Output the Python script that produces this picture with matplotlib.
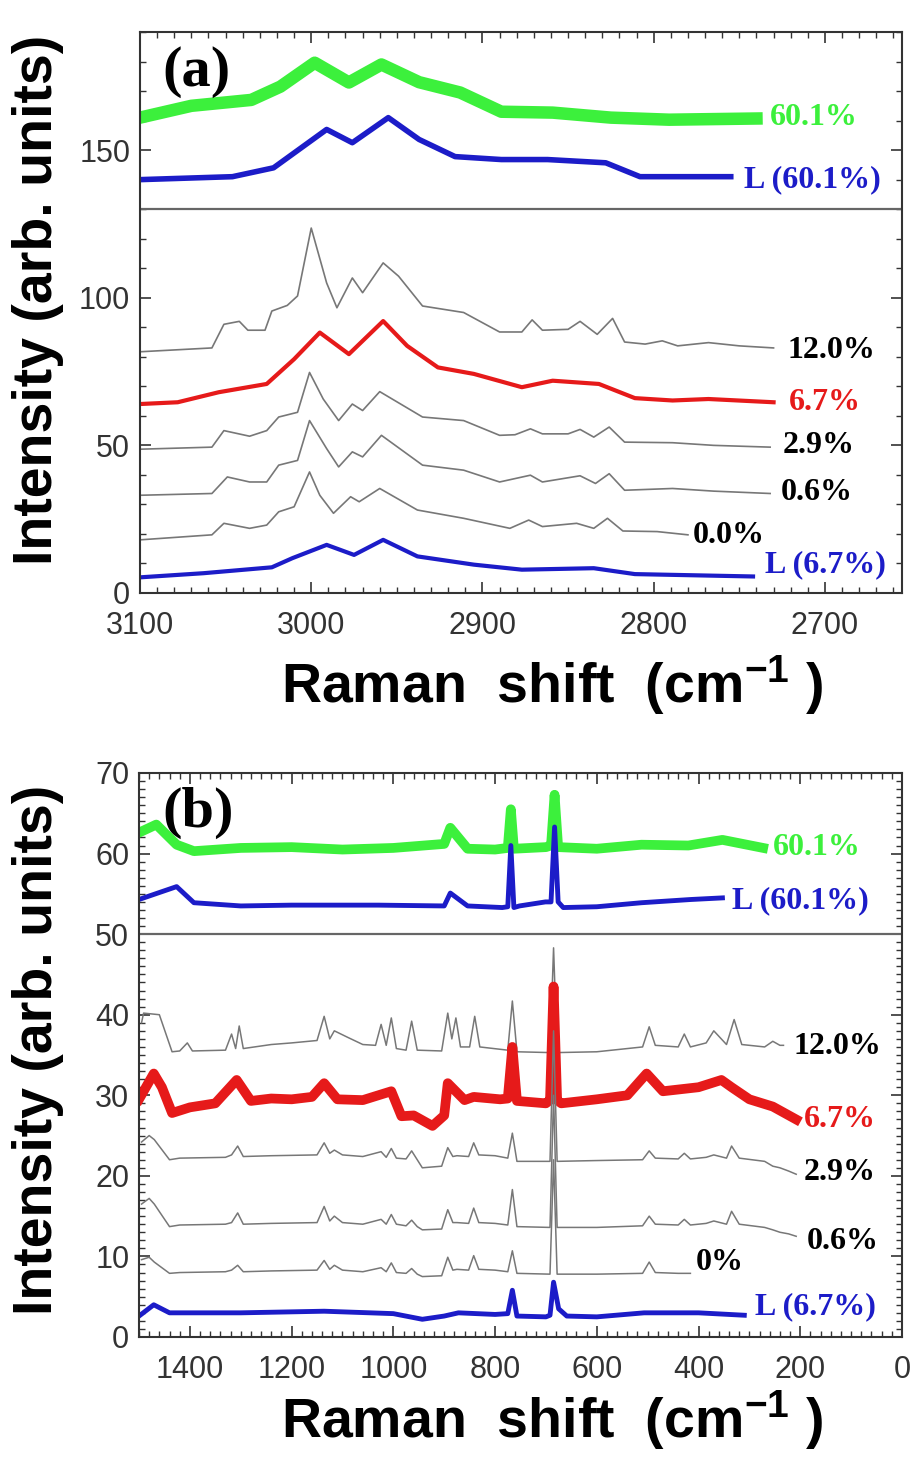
import matplotlib
matplotlib.use("Agg")
import matplotlib.pyplot as plt
from matplotlib import font_manager
from matplotlib.ticker import MultipleLocator

names = {f.name for f in font_manager.fontManager.ttflist}
SANS = 'Liberation Sans Narrow' if 'Liberation Sans Narrow' in names else 'Liberation Sans'
SERIF = 'Liberation Serif'
plt.rcParams['mathtext.default'] = 'regular'

# ---------------- panel (a) : 3100-2650 cm-1 ----------------
a_x_green = [3100, 3070, 3035, 3018, 2998, 2978, 2959, 2937, 2913, 2889, 2859, 2825, 2791, 2740]
a_y_green = [161, 165, 167, 171.5, 179.6, 172.9, 179, 173, 169.5, 163, 162.7, 161, 160.3, 160.7]

a_x_L601 = [3100, 3046, 3022, 2991, 2976, 2955, 2937, 2916, 2889, 2862, 2828, 2808, 2755]
a_y_L601 = [140, 141, 144, 157, 152.5, 161, 153.6, 147.8, 146.8, 146.8, 145.7, 141, 141]

a_x_120 = [3100, 3058, 3051, 3042, 3037, 3027, 3023, 3014, 3008, 3000, 2991, 2985, 2976, 2970,
           2958, 2949, 2935, 2911, 2890, 2877, 2871, 2865, 2850, 2843, 2833, 2824, 2817, 2805,
           2795, 2786, 2768, 2750, 2730]
a_y_120 = [81.7, 83, 91, 92, 89, 89, 95.5, 97.4, 100.6, 123.6, 105, 96.6, 106.7, 101.7,
           111.8, 107.3, 97.2, 95, 88.4, 88.4, 92.5, 89, 89.3, 92, 87.6, 93, 85, 84.3,
           85.4, 83.7, 84.8, 83.7, 83]

a_x_67 = [3100, 3078, 3054, 3026, 3010, 2995, 2978, 2958, 2944, 2926, 2905, 2877, 2859, 2832,
          2811, 2789, 2768, 2730]
a_y_67 = [64, 64.6, 68, 70.8, 79.2, 88.2, 80.9, 92.1, 83.7, 76.4, 74.2, 69.7, 71.9, 70.8,
          66, 65.2, 65.7, 64.6]

a_x_29 = [3100, 3058, 3051, 3036, 3026, 3019, 3008, 3001, 2993, 2984, 2976, 2970, 2960, 2935,
          2911, 2890, 2881, 2872, 2865, 2850, 2843, 2835, 2826, 2817, 2789, 2765, 2732]
a_y_29 = [48.7, 49.4, 55, 53.1, 55, 59.6, 61.2, 74.7, 65.7, 58.4, 64, 61.8, 68.2, 59.6,
          58.4, 53.4, 53.6, 55.6, 53.9, 53.9, 55.4, 52.8, 56.2, 51.1, 50.9, 50, 49.4]

a_x_06 = [3100, 3058, 3049, 3036, 3026, 3019, 3008, 3001, 2991, 2984, 2976, 2970, 2959, 2935,
          2911, 2890, 2872, 2865, 2843, 2834, 2826, 2817, 2789, 2765, 2732]
a_y_06 = [33.1, 33.7, 39.3, 37.6, 37.6, 43.3, 44.9, 58.4, 48.9, 42.7, 47.8, 46.1, 53.4, 43.3,
          41.6, 37.6, 39.9, 37.6, 39.7, 37.1, 40.4, 34.8, 35.4, 34.5, 33.7]

a_x_00 = [3100, 3058, 3051, 3036, 3026, 3019, 3010, 3001, 2995, 2987, 2977, 2972, 2960, 2938,
          2911, 2884, 2873, 2865, 2845, 2835, 2827, 2818, 2798, 2780]
a_y_00 = [18, 19.7, 23.6, 21.9, 23, 27.5, 29.2, 41, 33.1, 27, 32.6, 30.9, 35.4, 28.1,
          25.3, 21.9, 24.7, 22.5, 23.6, 21.9, 25.3, 21, 20.8, 19.7]

a_x_L67 = [3100, 3063, 3023, 3011, 2991, 2975, 2958, 2938, 2905, 2877, 2835, 2811, 2742]
a_y_L67 = [5.3, 6.7, 8.7, 11.8, 16.3, 12.9, 18, 12.4, 9.6, 7.9, 8.4, 6.4, 5.6]

a_labels = ['60.1%', 'L (60.1%)', '12.0%', '6.7%', '2.9%', '0.6%', '0.0%', 'L (6.7%)']
a_lab_x = [2732, 2747, 2722, 2721, 2725, 2726, 2777, 2735]
a_lab_y = [161, 140, 82, 64.4, 49.8, 34, 19.5, 9.6]

# ---------------- panel (b) : 1500-0 cm-1 ----------------
b_x_green = [1500, 1466, 1426, 1392, 1300, 1200, 1100, 1000, 900, 888, 854, 800, 775, 769,
             763, 700, 690, 683, 676, 600, 512, 420, 353, 273]
b_y_green = [62.6, 63.6, 61.1, 60.3, 60.7, 60.8, 60.5, 60.7, 61.2, 63.2, 60.6, 60.5, 60.7, 65.5,
             60.6, 60.8, 61.0, 67.3, 60.8, 60.6, 61.1, 61.0, 61.7, 60.7]

b_x_L601 = [1500, 1426, 1392, 1300, 1200, 1030, 900, 888, 854, 786, 775, 769, 763, 752,
            701, 690, 683, 676, 666, 600, 512, 415, 353]
b_y_L601 = [54.3, 55.9, 53.9, 53.5, 53.6, 53.6, 53.5, 55.1, 53.5, 53.3, 53.4, 61.0, 53.3, 53.5,
            54.0, 54.0, 63.3, 54.0, 53.3, 53.4, 53.9, 54.3, 54.5]

b_x_120 = [1495, 1491, 1460, 1435, 1420, 1405, 1395, 1330, 1318, 1310, 1303, 1295, 1240, 1200,
           1150, 1136, 1125, 1116, 1090, 1060, 1035, 1024, 1014, 1004, 994, 975, 964, 953,
           905, 893, 885, 877, 868, 850, 840, 830, 775, 766, 757, 692, 685, 678, 600, 510,
           497, 485, 440, 428, 416, 385, 370, 345, 330, 315, 270, 254, 240, 233]
b_y_120 = [39, 40.2, 40, 35.4, 35.5, 36.5, 35.5, 35.6, 37.6, 35.8, 38.6, 35.8, 36.3, 36.5,
           36.8, 39.8, 37, 38, 37.2, 36.3, 36.2, 38.8, 36.2, 39.6, 35.8, 35.6, 39.2, 35.6,
           35.5, 40.2, 37, 39.6, 36, 36, 39.8, 36, 35.6, 41.7, 35.4, 35.3, 48.3, 35.3, 35.4, 36,
           38.5, 36.2, 36, 37.6, 36, 36.5, 38, 36.3, 39.4, 36.3, 36, 36.7, 36.2, 36.2]

b_x_67 = [1500, 1471, 1455, 1435, 1400, 1350, 1308, 1280, 1240, 1200, 1160, 1136, 1110, 1060,
          1004, 984, 960, 923, 900, 893, 860, 842, 790, 775, 766, 757, 700, 692, 685, 678,
          670, 600, 540, 502, 470, 400, 355, 335, 300, 254, 208]
b_y_67 = [29.5, 32.7, 31.0, 27.8, 28.5, 29.0, 31.9, 29.3, 29.6, 29.5, 29.8, 31.5, 29.5, 29.4,
          30.5, 27.4, 27.5, 26.2, 27.5, 31.5, 29.4, 29.8, 29.5, 29.6, 36.0, 29.3, 29.0, 29.4, 43.5, 29.4,
          29.0, 29.5, 30.0, 32.7, 30.5, 31.0, 31.9, 31.0, 29.5, 28.6, 27.0]

# shared wavenumbers for the 2.9 %, 0.6 % and 0 % spectra
b_x_low = [1495, 1480, 1470, 1440, 1420, 1330, 1318, 1306, 1295, 1240, 1150, 1136, 1125, 1116,
           1100, 1060, 1024, 1014, 1004, 994, 975, 964, 953, 943, 905, 893, 883, 875, 852, 842,
           832, 800, 775, 766, 757, 692, 685, 678, 600, 510, 497, 485, 440, 428, 416, 385, 370,
           345, 335, 320, 270, 254, 240, 223, 208]
b_y_29 = [24.2, 25, 24.5, 22, 22.2, 22.3, 22.6, 23.7, 22.4, 22.5, 22.6, 24.1, 22.8, 23.2,
          22.6, 22.4, 23.0, 22.3, 23.4, 22.2, 22.1, 23.1, 22, 21, 21.2, 23.5, 22.4, 22.5, 22.4, 24.1,
          22.6, 22.5, 22.2, 25.3, 21.8, 21.8, 38, 21.8, 21.9, 22, 23.1, 22.2, 22.1, 22.8, 22.1, 22.3, 22.6,
          22.2, 23.7, 22.2, 21.8, 21.2, 21, 20.6, 20.2]
b_y_06 = [16.5, 17.2, 16.5, 13.7, 13.9, 14.0, 14.2, 15.4, 14.0, 14.1, 14.2, 16.2, 14.4, 15.0,
          14.2, 14.0, 14.6, 14.0, 15.2, 14.0, 13.8, 14.5, 13.7, 13.3, 13.4, 15.8, 14.2, 14.2, 14.1, 16.0,
          14.2, 14.1, 13.9, 18.3, 13.7, 13.6, 30, 13.6, 13.6, 13.8, 15.0, 14.0, 13.9, 14.6, 13.9, 14.1, 14.4,
          14.0, 15.6, 14.0, 13.6, 13.3, 13.0, 12.8, 12.5]
b_y_00 = [9.6, 9.9, 9.3, 7.9, 8.0, 8.1, 8.3, 8.9, 8.1, 8.2, 8.3, 9.5, 8.4, 8.9,
          8.3, 8.1, 8.6, 8.1, 9.2, 8.0, 7.9, 8.5, 7.8, 7.5, 7.6, 9.9, 8.3, 8.4, 8.3, 10.1,
          8.4, 8.3, 8.1, 10.7, 7.9, 7.8, 22, 7.8, 7.8, 7.9, 9.3, 8.0, 7.9, 7.9, 7.9]

b_x_L67 = [1500, 1471, 1440, 1300, 1136, 1000, 943, 900, 872, 800, 775, 766, 757, 700, 692,
           685, 675, 659, 600, 507, 400, 310]
b_y_L67 = [2.6, 4.0, 3.0, 3.0, 3.2, 2.9, 2.2, 2.6, 3.0, 2.8, 2.9, 5.8, 2.6, 2.5, 2.7,
           6.8, 3.5, 2.6, 2.5, 3.0, 3.0, 2.7]

b_labels = ['60.1%', 'L (60.1%)', '12.0%', '6.7%', '2.9%', '0.6%', '0%', 'L (6.7%)']
b_lab_x = [254, 334, 213, 193, 193, 188, 406, 289]
b_lab_y = [60.7, 54.2, 36, 27, 20.4, 11.8, 9.2, 3.7]

GREEN = '#3cf03c'
BLUE = '#1c1cc8'
RED = '#e61a1a'
GRAY = '#777777'
lab_colors = [GREEN, BLUE, 'black', RED, 'black', 'black', 'black', BLUE]

fig = plt.figure(figsize=(9.14, 14.6), dpi=100)
ax_a = fig.add_axes([140 / 914, 1 - 593 / 1460, (902 - 140) / 914, (593 - 32) / 1460])
ax_b = fig.add_axes([139 / 914, 1 - 1337 / 1460, (902 - 139) / 914, (1337 - 773) / 1460])

# panel (a) curves
ax_a.plot(a_x_green, a_y_green, color=GREEN, lw=9, solid_joinstyle='round')
ax_a.plot(a_x_L601, a_y_L601, color=BLUE, lw=4)
ax_a.plot(a_x_120, a_y_120, color=GRAY, lw=1.2)
ax_a.plot(a_x_67, a_y_67, color=RED, lw=3)
ax_a.plot(a_x_29, a_y_29, color=GRAY, lw=1.2)
ax_a.plot(a_x_06, a_y_06, color=GRAY, lw=1.2)
ax_a.plot(a_x_00, a_y_00, color=GRAY, lw=1.2)
ax_a.plot(a_x_L67, a_y_L67, color=BLUE, lw=3)
ax_a.axhline(130, color='#666666', lw=1.6)
ax_a.set_xlim(3100, 2655)
ax_a.set_ylim(0, 190)
ax_a.xaxis.set_major_locator(MultipleLocator(100))
ax_a.xaxis.set_minor_locator(MultipleLocator(10))
ax_a.yaxis.set_major_locator(MultipleLocator(50))
ax_a.yaxis.set_minor_locator(MultipleLocator(10))

# panel (b) curves
ax_b.plot(b_x_green, b_y_green, color=GREEN, lw=7, solid_joinstyle='round')
ax_b.plot(b_x_L601, b_y_L601, color=BLUE, lw=3.5)
ax_b.plot(b_x_120, b_y_120, color=GRAY, lw=1.1)
ax_b.plot(b_x_67, b_y_67, color=RED, lw=7, solid_joinstyle='round')
ax_b.plot(b_x_low, b_y_29, color=GRAY, lw=1.1)
ax_b.plot(b_x_low, b_y_06, color=GRAY, lw=1.1)
ax_b.plot(b_x_low[:len(b_y_00)], b_y_00, color=GRAY, lw=1.1)
ax_b.plot(b_x_L67, b_y_L67, color=BLUE, lw=3.5)
ax_b.axhline(50, color='#666666', lw=1.6)
ax_b.set_xlim(1500, 0)
ax_b.set_ylim(0, 70)
ax_b.xaxis.set_major_locator(MultipleLocator(200))
ax_b.xaxis.set_minor_locator(MultipleLocator(20))
ax_b.yaxis.set_major_locator(MultipleLocator(10))
ax_b.yaxis.set_minor_locator(MultipleLocator(1))

for ax, labs, lx, ly, tag in [(ax_a, a_labels, a_lab_x, a_lab_y, '(a)'),
                              (ax_b, b_labels, b_lab_x, b_lab_y, '(b)')]:
    for t, x, y, c in zip(labs, lx, ly, lab_colors):
        ax.text(x, y, t, color=c, fontsize=23, fontweight='bold', family=SERIF,
                ha='left', va='center')
    ax.text(0.03, 0.975, tag, transform=ax.transAxes, fontsize=42, fontweight='bold',
            family=SERIF, ha='left', va='top')
    ax.tick_params(which='both', direction='in', top=True, right=True, colors='#333333')
    ax.tick_params(which='major', length=8, width=1.2, labelsize=22)
    ax.tick_params(which='minor', length=4, width=1)
    ax.tick_params(axis='x', which='major', pad=13)
    ax.tick_params(axis='y', which='major', pad=7)
    for lab in ax.get_xticklabels() + ax.get_yticklabels():
        lab.set_family(SANS)
    for s in ax.spines.values():
        s.set_color('#333333')
        s.set_linewidth(1.5)

xlab = r'Raman  shift  (cm$^{-1}$ )'
fig.text(552 / 914, 1 - 685 / 1460, xlab, fontsize=40, fontweight='bold', family=SANS,
         ha='center', va='center')
fig.text(552 / 914, 1 - 1420 / 1460, xlab, fontsize=40, fontweight='bold', family=SANS,
         ha='center', va='center')
fig.text(38 / 914, 1 - 300 / 1460, 'Intensity (arb. units)', fontsize=40, fontweight='bold',
         family=SANS, rotation=90, ha='center', va='center')
fig.text(38 / 914, 1 - 1050 / 1460, 'Intensity (arb. units)', fontsize=40, fontweight='bold',
         family=SANS, rotation=90, ha='center', va='center')

fig.savefig('out.png', dpi=100)
